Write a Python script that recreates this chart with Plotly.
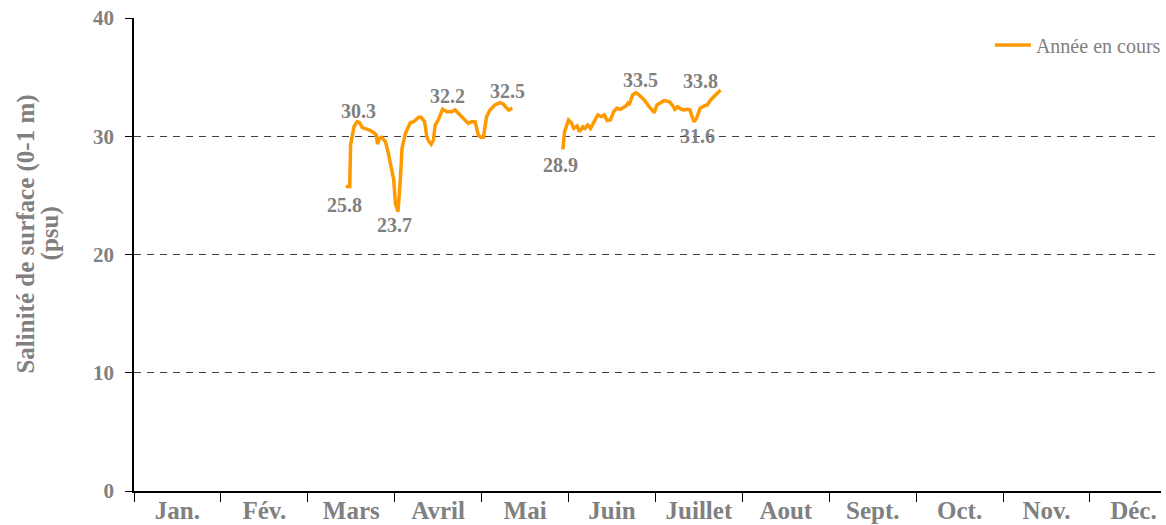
import plotly.graph_objects as go

# Day-of-year (equal month widths, 365/12 days per month) and salinity values
seg1_day = [74.1, 75.5, 75.8, 77.0, 78.1, 78.9, 79.9, 81.0, 82.4, 83.9, 84.8, 85.2, 85.9, 86.6,
            88.0, 88.9, 90.1, 90.9, 91.5, 92.4, 93.2, 93.8, 95.0, 96.7, 97.9, 99.6, 100.5,
            101.7, 102.5, 103.1, 104.0, 104.8, 105.4, 106.6, 108.0, 109.5, 111.2, 112.4,
            113.5, 114.7, 115.9, 117.0, 118.2, 119.4, 120.5, 121.4, 122.3, 123.4, 124.6,
            126.3, 128.1, 129.2, 130.0, 131.2, 132.4]
seg1_val = [25.74, 25.74, 29.26, 30.81, 31.23, 31.15, 30.73, 30.67, 30.53, 30.30, 30.1, 29.34,
            29.82, 29.91, 29.54, 28.70, 27.43, 26.30, 24.33, 23.62, 26.30, 28.98, 30.25, 31.15,
            31.23, 31.60, 31.60, 31.23, 29.96, 29.60, 29.32, 29.68, 30.95, 31.43, 32.28, 32.08,
            32.08, 32.22, 31.94, 31.66, 31.37, 31.09, 31.23, 31.23, 30.11, 29.91, 29.91, 31.66,
            32.22, 32.64, 32.84, 32.73, 32.50, 32.22, 32.39]
seg2_day = [150.1, 150.7, 152.1, 153.0, 153.9, 155.1, 155.9, 157.1, 157.9, 158.8, 159.8, 161.2,
            162.3, 163.5, 164.6, 165.6, 166.7, 167.9, 169.0, 170.2, 171.4, 172.2, 172.8, 173.3,
            174.5, 175.7, 176.8, 178.6, 180.3, 182.1, 183.0, 184.4, 185.5, 187.3, 188.4, 189.3,
            190.2, 191.6, 192.5, 193.7, 194.6, 195.1, 196.0, 196.9, 198.1, 199.5, 200.6, 201.8,
            203.5, 205.3]
seg2_val = [28.89, 30.39, 31.37, 31.15, 30.67, 30.87, 30.39, 30.81, 30.67, 30.95, 30.67, 31.37,
            31.80, 31.66, 31.80, 31.32, 31.37, 32.08, 32.36, 32.28, 32.50, 32.56, 32.78, 32.64,
            33.49, 33.69, 33.49, 33.07, 32.50, 31.99, 32.64, 32.84, 33.01, 32.92, 32.64, 32.28,
            32.50, 32.28, 32.22, 32.28, 32.22, 31.80, 31.23, 31.52, 32.36, 32.56, 32.64, 33.07,
            33.49, 33.91]

months = ["Jan.", "Fév.", "Mars", "Avril", "Mai", "Juin", "Juillet", "Aout", "Sept.", "Oct.", "Nov.", "Déc."]
y_ticks = [0, 10, 20, 30, 40]
y_title_lines = ["Salinité de surface (0-1 m)", "(psu)"]

label_text = ["30.3", "25.8", "23.7", "32.2", "32.5", "28.9", "33.5", "33.8", "31.6"]
label_day = [78.7, 73.8, 91.3, 109.7, 130.6, 149.1, 177.3, 198.2, 197.1]
label_val = [32.14, 24.19, 22.50, 33.40, 33.83, 27.57, 34.76, 34.67, 30.02]

MW = 365 / 12
GRAY = "#808080"
FONT = "Liberation Serif"

x_all = seg1_day + [None] + seg2_day
y_all = seg1_val + [None] + seg2_val

fig = go.Figure()
fig.add_trace(go.Scatter(x=x_all, y=y_all, mode="lines", name="Année en cours",
                         line=dict(color="#FF9900", width=3.5), connectgaps=False))

for t, d, v in zip(label_text, label_day, label_val):
    fig.add_annotation(x=d, y=v, text=t, showarrow=False,
                       font=dict(family=FONT, size=20, color=GRAY, weight="bold"))

# Two-line y-axis title placed as rotated annotations
for txt, px, py in zip(y_title_lines, [-0.1056, -0.0814], [0.5433, 0.5455]):
    fig.add_annotation(xref="paper", yref="paper", x=px, y=py, text=txt, showarrow=False,
                       textangle=-90, xanchor="center", yanchor="middle",
                       font=dict(family=FONT, size=25, color=GRAY, weight="bold"))

fig.update_layout(
    width=1166, height=525,
    margin=dict(l=134, r=0, t=18, b=34),
    paper_bgcolor="white", plot_bgcolor="white",
    showlegend=True,
    legend=dict(x=1.0048, y=0.943, xanchor="right", yanchor="middle", bgcolor="rgba(0,0,0,0)",
                itemwidth=36,
                font=dict(family=FONT, size=20, color=GRAY)),
    xaxis=dict(
        range=[0, 1032 / (87.33 / MW)],
        automargin=False,
        tickmode="array",
        tickvals=[MW * (i + 0.5) for i in range(12)],
        ticktext=months,
        ticks="",
        ticklabelstandoff=-4,
        showgrid=False, zeroline=False,
        showline=True, linecolor="black", linewidth=1.5,
        tickfont=dict(family=FONT, size=25, color=GRAY, weight="bold"),
        minor=dict(tickmode="array", tickvals=[MW * i for i in range(13)],
                   ticks="outside", ticklen=9, tickcolor="black", tickwidth=1, showgrid=False),
    ),
    yaxis=dict(
        range=[0, 40],
        automargin=False,
        tickmode="array", tickvals=y_ticks,
        ticks="outside", ticklen=7, tickcolor="black",
        ticklabelstandoff=7,
        ticklabeloverflow="allow",
        showgrid=False, zeroline=False,
        showline=True, linecolor="black", linewidth=1.5,
        tickfont=dict(family=FONT, size=21, color=GRAY, weight="bold"),
        minor=dict(tickmode="array", tickvals=[10, 20, 30], showgrid=True,
                   gridcolor="#404040", griddash="7px,6px", gridwidth=1, ticks=""),
    ),
)

fig.write_html("out.html", config={"displayModeBar": False},
               post_script="document.body.style.margin='0';")
